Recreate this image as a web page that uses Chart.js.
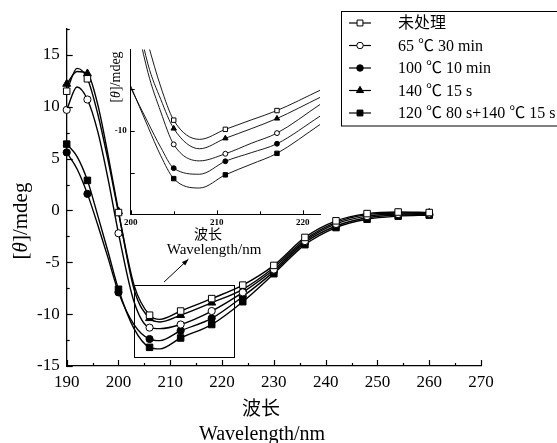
<!DOCTYPE html>
<html>
<head>
<meta charset="utf-8">
<script src="https://cdn.jsdelivr.net/npm/chart.js@4.4.0/dist/chart.umd.min.js"></script>
<style>
  html, body { margin: 0; padding: 0; background: #fff; }
  #wrap { position: relative; width: 557px; height: 443px; overflow: hidden; }
  #mainChart { position: absolute; left: 0; top: 0; }
  #insetChart { position: absolute; left: 100px; top: 40px; }
</style>
</head>
<body>
<div id="wrap">
  <canvas id="mainChart" width="557" height="443" style="width:557px;height:443px"></canvas>
  <canvas id="insetChart" width="230" height="222" style="width:230px;height:222px"></canvas>
</div>
<script>
// main spectrum (nm / mdeg)
const wavelength = [190, 192, 194, 196, 198, 200, 203, 206, 208, 212, 218, 224, 230, 236, 242, 248, 254, 260];
const markedWavelength = [190, 194, 200, 206, 212, 218, 224, 230, 236, 242, 248, 254, 260];
const untreated  = [11.5, 13.7, 12.7, 9.3, 4.8, -0.2, -7.2, -10.1, -10.5, -9.7, -8.5, -7.2, -5.3, -2.6, -1.0, -0.3, -0.15, -0.2];
const heat65     = [9.7, 11.9, 10.7, 7.6, 3.0, -2.2, -8.8, -11.3, -11.4, -11.0, -9.7, -7.9, -5.7, -2.95, -1.3, -0.55, -0.35, -0.3];
const heat100    = [5.6, 4.0, 1.6, -1.4, -4.6, -7.9, -11.0, -12.4, -12.55, -11.6, -10.4, -8.3, -5.9, -3.1, -1.5, -0.7, -0.45, -0.4];
const heat140    = [12.2, 13.4, 13.2, 10.2, 5.3, -0.1, -7.6, -10.4, -10.75, -10.1, -8.9, -7.6, -5.5, -2.8, -1.15, -0.4, -0.25, -0.25];
const heat120140 = [6.4, 5.2, 2.9, -0.5, -4.0, -7.6, -11.4, -13.2, -13.35, -12.3, -11.0, -8.8, -6.1, -3.3, -1.65, -0.85, -0.55, -0.45];

// inset (zoom of 200-222 nm)
const insetWavelength = [200, 202, 203.5, 205, 208, 211, 214, 217, 222];
const insetMarked = [205, 211, 217];
const insetUntreated  = [-2.5, -5.8, -7.9, -9.49, -10.41, -9.93, -9.48, -9.03, -8.06];
const insetHeat65     = [-3.5, -7.2, -9.1, -10.65, -11.44, -11.1, -10.6, -10.11, -8.74];
const insetHeat100    = [-7.95, -9.6, -10.8, -11.79, -12.08, -11.46, -11.05, -10.62, -9.3];
const insetHeat140    = [-3.0, -6.8, -8.5, -9.89, -10.86, -10.36, -9.9, -9.41, -8.4];
const insetHeat120140 = [-7.85, -9.8, -11.2, -12.29, -12.74, -12.11, -11.6, -11.08, -9.7];

const labels = ['未处理', '65 ℃ 30 min', '100 ℃ 10 min', '140 ℃ 15 s', '120 ℃ 80 s+140 ℃ 15 s'];
const xTicksMain = { min: 190, max: 270, step: 5, labelEvery: 10 };
const yTicksMain = { min: -15, max: 17.5, step: 2.5, labelEvery: 5 };

const SERIF = '"Liberation Serif", "Noto Sans CJK SC", serif';

const styles = [
  { pointStyle: 'rect', fill: '#fff', r: 4.6 },
  { pointStyle: 'circle', fill: '#fff', r: 3.6 },
  { pointStyle: 'circle', fill: '#000', r: 3.6 },
  { pointStyle: 'triangle', fill: '#000', r: 4.6 },
  { pointStyle: 'rect', fill: '#000', r: 4.6 }
];

function toPoints(xs, ys) {
  return xs.map((x, i) => ({ x: x, y: ys[i] }));
}

function makeSets(xs, series, marks, scale, width) {
  return series.map((ys, i) => ({
    label: labels[i],
    data: toPoints(xs, ys),
    borderColor: '#000',
    borderWidth: width,
    backgroundColor: styles[i].fill,
    pointBackgroundColor: styles[i].fill,
    pointBorderColor: '#000',
    pointBorderWidth: 1,
    pointStyle: styles[i].pointStyle,
    pointRadius: c => (c.raw && marks.includes(c.raw.x)) ? styles[i].r * scale : 0,
    cubicInterpolationMode: 'monotone',
    fill: false
  }));
}

// ticks drawn pointing into the plot
const inwardTicks = {
  id: 'inwardTicks',
  afterDraw(chart, args, o) {
    const { ctx, chartArea: a } = chart;
    const xs = chart.scales.x, ys = chart.scales.y;
    ctx.save();
    ctx.strokeStyle = '#000';
    ctx.lineWidth = o.width;
    xs.ticks.forEach(t => {
      const px = Math.round(xs.getPixelForValue(t.value)) + 0.5;
      const len = Math.abs(t.value % o.xMajor) < 1e-6 ? o.major : o.minor;
      ctx.beginPath(); ctx.moveTo(px, a.bottom); ctx.lineTo(px, a.bottom - len); ctx.stroke();
    });
    ys.ticks.forEach(t => {
      if (o.yOnly && !o.yOnly.includes(t.value)) return;
      const py = Math.round(ys.getPixelForValue(t.value)) + 0.5;
      const len = Math.abs(t.value % o.yMajor) < 1e-6 ? o.major : o.minor;
      ctx.beginPath(); ctx.moveTo(a.left, py); ctx.lineTo(a.left + len, py); ctx.stroke();
    });
    ctx.restore();
  }
};

function drawThetaTitle(ctx, cx, cy, size) {
  const normal = size + 'px ' + SERIF;
  const italic = 'italic ' + size + 'px ' + SERIF;
  const parts = [['[', normal], ['θ', italic], [']/mdeg', normal]];
  ctx.save();
  ctx.translate(cx, cy);
  ctx.rotate(-Math.PI / 2);
  ctx.fillStyle = '#000';
  ctx.textAlign = 'left';
  ctx.textBaseline = 'middle';
  let total = 0;
  parts.forEach(p => { ctx.font = p[1]; total += ctx.measureText(p[0]).width; });
  let x = -total / 2;
  parts.forEach(p => { ctx.font = p[1]; ctx.fillText(p[0], x, 0); x += ctx.measureText(p[0]).width; });
  ctx.restore();
}

const mainExtras = {
  id: 'mainExtras',
  afterDraw(chart) {
    const { ctx } = chart;
    const xs = chart.scales.x, ys = chart.scales.y;
    ctx.save();
    ctx.fillStyle = '#000';
    ctx.strokeStyle = '#000';
    ctx.textAlign = 'center';
    ctx.textBaseline = 'middle';
    // axis titles
    ctx.font = '19px ' + SERIF;
    ctx.fillText('波长', 261, 410);
    ctx.font = '20px ' + SERIF;
    ctx.fillText('Wavelength/nm', 262, 435);
    drawThetaTitle(ctx, 21, 221, 21);

    // zoom box and arrow
    const x0 = xs.getPixelForValue(202.9), x1 = xs.getPixelForValue(222.2);
    const y0 = ys.getPixelForValue(-7.17), y1 = ys.getPixelForValue(-14.08);
    ctx.lineWidth = 1;
    ctx.strokeRect(Math.round(x0) + 0.5, Math.round(y0) + 0.5, Math.round(x1 - x0), Math.round(y1 - y0));
    const ax0 = xs.getPixelForValue(208.8), ay0 = ys.getPixelForValue(-6.9);
    const ax1 = xs.getPixelForValue(213.5), ay1 = ys.getPixelForValue(-4.7);
    ctx.beginPath(); ctx.moveTo(ax0, ay0); ctx.lineTo(ax1, ay1); ctx.stroke();
    const ang = Math.atan2(ay1 - ay0, ax1 - ax0);
    ctx.beginPath();
    ctx.moveTo(ax1, ay1);
    ctx.lineTo(ax1 - 7 * Math.cos(ang - 0.35), ay1 - 7 * Math.sin(ang - 0.35));
    ctx.lineTo(ax1 - 7 * Math.cos(ang + 0.35), ay1 - 7 * Math.sin(ang + 0.35));
    ctx.closePath(); ctx.fill();

    // legend box
    ctx.lineWidth = 1;
    ctx.strokeRect(341.5, 11.5, 230, 114.5);
    const rows = [23, 45.5, 68, 90.5, 113];
    ctx.textAlign = 'left';
    ctx.font = '16px ' + SERIF;
    chart.data.datasets.forEach((ds, i) => {
      const y = rows[i];
      ctx.lineWidth = 1.2;
      ctx.beginPath(); ctx.moveTo(349, y); ctx.lineTo(371, y); ctx.stroke();
      ctx.fillStyle = styles[i].fill;
      ctx.lineWidth = 1;
      Chart.helpers.drawPoint(ctx, { pointStyle: styles[i].pointStyle, radius: styles[i].r * 0.9, rotation: 0, borderWidth: 1 }, 360, y);
      ctx.fillStyle = '#000';
      ctx.fillText(ds.label, 398, y + 1);
    });
    ctx.restore();
  }
};

const insetExtras = {
  id: 'insetExtras',
  afterDraw(chart) {
    const { ctx } = chart;
    ctx.save();
    ctx.fillStyle = '#000';
    ctx.textAlign = 'center';
    ctx.textBaseline = 'middle';
    ctx.font = '14px ' + SERIF;
    ctx.fillText('波长', 108, 195);
    ctx.font = '15px ' + SERIF;
    ctx.fillText('Wavelength/nm', 114, 210);
    drawThetaTitle(ctx, 16, 37, 14);
    ctx.restore();
  }
};

const mainSeries = [untreated, heat65, heat100, heat140, heat120140];
const insetSeries = [insetUntreated, insetHeat65, insetHeat100, insetHeat140, insetHeat120140];

const tickFont = { family: SERIF, size: 17 };

new Chart(document.getElementById('mainChart').getContext('2d'), {
  type: 'line',
  data: { datasets: makeSets(wavelength, mainSeries, markedWavelength, 1, 1.4).map(d => Object.assign(d, { clip: false })) },
  options: {
    responsive: false,
    animation: false,
    layout: { padding: { top: 29, right: 76, left: 0, bottom: 0 } },
    plugins: {
      legend: { display: false },
      tooltip: { enabled: false },
      inwardTicks: { width: 1.2, major: 6, minor: 3, xMajor: 10, yMajor: 5 }
    },
    scales: {
      x: {
        type: 'linear', min: xTicksMain.min, max: xTicksMain.max,
        afterFit: s => { s.height = 77; },
        grid: { display: false, drawTicks: false },
        border: { color: '#000', width: 1.3 },
        ticks: {
          stepSize: xTicksMain.step, autoSkip: false, includeBounds: false, maxRotation: 0, padding: 6, color: '#000', font: tickFont,
          callback: v => (v % xTicksMain.labelEvery === 0 ? v : '')
        }
      },
      y: {
        type: 'linear', min: yTicksMain.min, max: yTicksMain.max,
        afterFit: s => { s.width = 66.7; },
        grid: { display: false, drawTicks: false },
        border: { color: '#000', width: 1.3 },
        ticks: {
          stepSize: yTicksMain.step, autoSkip: false, includeBounds: false, padding: 7, color: '#000', font: tickFont,
          callback: v => (Math.abs(v % yTicksMain.labelEvery) < 1e-6 ? v : '')
        }
      }
    }
  },
  plugins: [inwardTicks, mainExtras]
});

new Chart(document.getElementById('insetChart').getContext('2d'), {
  type: 'line',
  data: { datasets: makeSets(insetWavelength, insetSeries, insetMarked, 0.68, 0.9) },
  options: {
    responsive: false,
    animation: false,
    layout: { padding: { top: 8, right: 10, left: 0, bottom: 0 } },
    plugins: {
      legend: { display: false },
      tooltip: { enabled: false },
      inwardTicks: { width: 1, major: 4, minor: 3, xMajor: 10, yMajor: 2, yOnly: [-14, -12, -10, -8] }
    },
    scales: {
      x: {
        type: 'linear', min: 200, max: 222,
        afterFit: s => { s.height = 47.7; },
        grid: { display: false, drawTicks: false },
        border: { color: '#000', width: 1 },
        ticks: {
          stepSize: 5, autoSkip: false, includeBounds: false, maxRotation: 0, padding: 3, color: '#000',
          font: { family: SERIF, size: 9, weight: 'bold' },
          callback: v => (v % 10 === 0 ? v : '')
        }
      },
      y: {
        type: 'linear', min: -14, max: -6.1,
        afterFit: s => { s.width = 30.7; },
        grid: { display: false, drawTicks: false },
        border: { color: '#000', width: 1 },
        ticks: {
          stepSize: 2, autoSkip: false, includeBounds: false, padding: 4, color: '#000',
          font: { family: SERIF, size: 9, weight: 'bold' },
          callback: v => (v === -10 ? v : '')
        }
      }
    }
  },
  plugins: [inwardTicks, insetExtras]
});
</script>
</body>
</html>
